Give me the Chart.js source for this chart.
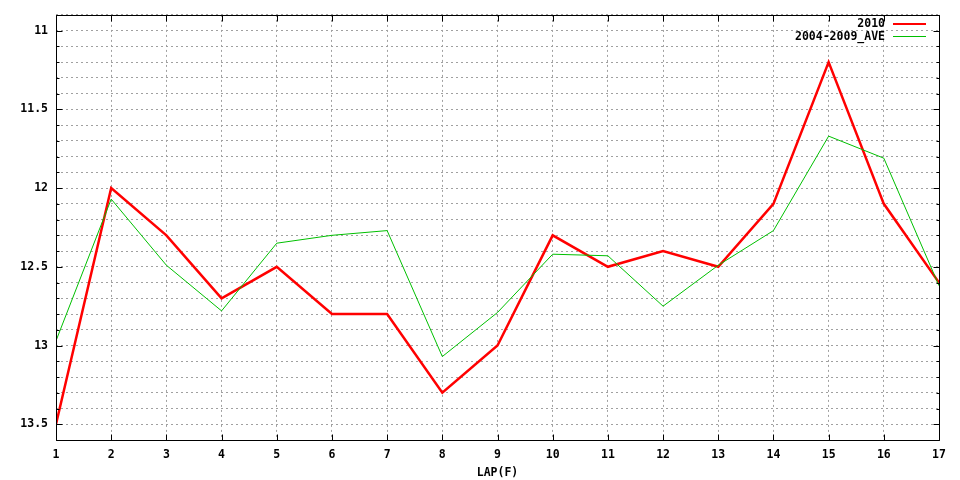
<!DOCTYPE html>
<html>
<head>
<meta charset="utf-8">
<script src="https://cdn.jsdelivr.net/npm/chart.js@4"></script>
<style>
  html, body { margin: 0; padding: 0; background: #fff; }
  #wrap { width: 960px; height: 480px; }
</style>
</head>
<body>
<div id="wrap"><canvas id="c" width="960" height="480"></canvas></div>
<script>
const laps = [1,2,3,4,5,6,7,8,9,10,11,12,13,14,15,16,17];
const series2010 = [13.5,12.0,12.3,12.7,12.5,12.8,12.8,13.3,13.0,12.3,12.5,12.4,12.5,12.1,11.2,12.1,12.6];
const seriesAve = [12.97,12.07,12.49,12.78,12.35,12.30,12.27,13.07,12.79,12.42,12.43,12.75,12.49,12.27,11.67,11.81,12.62];
const label2010 = '2010';
const labelAve = '2004-2009_AVE';
const xTitle = 'LAP(F)';
const yMin = 10.9, yMax = 13.6;

const FONT = { family: "'DejaVu Sans Mono', 'Liberation Mono', monospace", size: 11.5, weight: 'bold' };

const frameTicks = {
  id: 'frameTicks',
  afterDraw(chart) {
    const ctx = chart.ctx, a = chart.chartArea;
    const xs = chart.scales.x, ys = chart.scales.y;
    ctx.save();
    ctx.strokeStyle = '#000';
    ctx.lineWidth = 1;
    ctx.beginPath();
    const L = Math.round(a.left) + 0.5, R = Math.round(a.right) + 0.5;
    const T = Math.round(a.top) + 0.5, B = Math.round(a.bottom) + 0.5;
    ctx.rect(L, T, R - L, B - T);
    ys.ticks.forEach(t => {
      const y = Math.round(ys.getPixelForValue(t.value)) + 0.5;
      const major = Math.round(t.value * 10) % 5 === 0;
      const len = major ? 6 : 3;
      ctx.moveTo(L, y); ctx.lineTo(L + len, y);
      ctx.moveTo(R, y); ctx.lineTo(R - len, y);
    });
    xs.ticks.forEach(t => {
      const x = Math.round(xs.getPixelForValue(t.value)) + 0.5;
      ctx.moveTo(x, B); ctx.lineTo(x, B - 6);
      ctx.moveTo(x, T); ctx.lineTo(x, T + 6);
    });
    ctx.stroke();
    ctx.font = `${FONT.weight} ${FONT.size}px ${FONT.family}`;
    ctx.fillStyle = '#000';
    ctx.textAlign = 'right';
    ctx.textBaseline = 'middle';
    const rows = chart.data.datasets;
    rows.forEach((ds, i) => {
      const y = 23.5 + i * 12.7;
      ctx.fillText(ds.label, 885, y + 0.5);
      ctx.strokeStyle = ds.borderColor;
      ctx.lineWidth = ds.legendWidth;
      ctx.beginPath();
      const yy = Math.round(y) + (ds.legendWidth % 2 ? 0.5 : 0);
      ctx.moveTo(893, yy);
      ctx.lineTo(926, yy);
      ctx.stroke();
    });
    ctx.restore();
  }
};

new Chart(document.getElementById('c'), {
  type: 'line',
  data: {
    datasets: [
      { label: label2010, data: laps.map((x, i) => ({ x, y: series2010[i] })), legendWidth: 2,
        borderColor: '#ff0000', borderWidth: 2.5, pointRadius: 0, tension: 0, order: 1 },
      { label: labelAve, data: laps.map((x, i) => ({ x, y: seriesAve[i] })), legendWidth: 1,
        borderColor: '#00c000', borderWidth: 1, pointRadius: 0, tension: 0, order: 0 }
    ]
  },
  options: {
    responsive: false,
    animation: false,
    layout: { padding: { top: 13, right: 21, left: 0, bottom: 0 } },
    plugins: { legend: { display: false }, tooltip: { enabled: false } },
    scales: {
      x: {
        type: 'linear', min: 1, max: 17,
        ticks: { stepSize: 1, color: '#000', font: FONT, padding: 8, maxRotation: 0, autoSkip: false },
        grid: { color: '#a0a0a0', drawTicks: false, tickLength: 0 },
        border: { display: false, dash: [2, 3] },
        title: { display: true, text: xTitle, color: '#000', font: FONT, padding: { top: 0, bottom: 0 } },
        afterFit(s) { s.height = 40; }
      },
      y: {
        type: 'linear', min: yMin, max: yMax, reverse: true,
        ticks: { stepSize: 0.1, color: '#000', font: FONT, padding: 8, autoSkip: false,
          callback: (v) => {
            const r = Math.round(v * 10);
            return r % 5 === 0 ? String(r / 10) : '';
          } },
        grid: { color: '#a0a0a0', drawTicks: false, tickLength: 0 },
        border: { display: false, dash: [2, 3] },
        afterFit(s) { s.width = 56; }
      }
    }
  },
  plugins: [frameTicks]
});
</script>
</body>
</html>
